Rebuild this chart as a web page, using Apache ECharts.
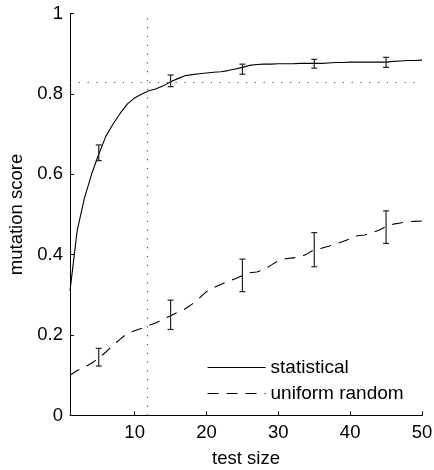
<!DOCTYPE html>
<html>
<head>
<meta charset="utf-8">
<script src="https://cdn.jsdelivr.net/npm/echarts@6/dist/echarts.min.js"></script>
<style>
html,body{margin:0;padding:0;background:#fff;}
#chart{width:434px;height:470px;}
</style>
</head>
<body>
<div id="chart"></div>
<script>
// ---- data ----
var testSizes = [1,2,3,4,5,6,7,8,9,10,11,12,13,14,15,16,17,18,19,20,21,22,23,24,25,26,27,28,29,30,31,32,33,34,35,36,37,38,39,40,41,42,43,44,45,46,47,48,49,50];
var statistical = [0.31,0.46,0.54,0.60,0.65,0.695,0.725,0.752,0.775,0.79,0.80,0.808,0.813,0.82,0.83,0.838,0.845,0.848,0.85,0.852,0.854,0.855,0.858,0.862,0.866,0.871,0.873,0.874,0.874,0.875,0.875,0.875,0.876,0.876,0.876,0.876,0.877,0.878,0.878,0.879,0.879,0.879,0.879,0.879,0.879,0.881,0.882,0.883,0.883,0.884];
var uniformRandom = [0.10,0.112,0.12,0.13,0.143,0.158,0.175,0.19,0.205,0.211,0.217,0.224,0.231,0.24,0.248,0.257,0.265,0.277,0.292,0.308,0.318,0.326,0.334,0.34,0.348,0.355,0.357,0.363,0.374,0.385,0.39,0.392,0.394,0.402,0.413,0.416,0.421,0.427,0.433,0.44,0.447,0.449,0.454,0.461,0.47,0.476,0.479,0.482,0.483,0.484];
var errX = [5,15,25,35,45];
var statLow = [0.634,0.818,0.849,0.864,0.866];
var statHigh = [0.673,0.847,0.874,0.886,0.891];
var randLow = [0.123,0.214,0.308,0.370,0.428];
var randHigh = [0.167,0.287,0.389,0.455,0.509];
var xTicks = [10,20,30,40,50];
var yTicks = [0,0.2,0.4,0.6,0.8,1];
var thresholdX = 11.8;
var thresholdY = 0.826;

var FONT = '"Liberation Sans", Arial, Helvetica, sans-serif';
var FS = 18.5;
var LFS = 19;

function pairs(xs, ys){ return xs.map(function(x,i){ return [x, ys[i]]; }); }
function triples(xs, lo, hi){ return xs.map(function(x,i){ return [x, lo[i], hi[i]]; }); }

function errRender(params, api){
  var x = api.value(0);
  var lo = api.coord([x, api.value(1)]);
  var hi = api.coord([x, api.value(2)]);
  var w = 3;
  var st = {stroke:'#222', lineWidth:1.2, fill:null};
  return {type:'group', children:[
    {type:'line', shape:{x1:lo[0],y1:lo[1],x2:hi[0],y2:hi[1]}, style:st},
    {type:'line', shape:{x1:lo[0]-w,y1:lo[1],x2:lo[0]+w,y2:lo[1]}, style:st},
    {type:'line', shape:{x1:hi[0]-w,y1:hi[1],x2:hi[0]+w,y2:hi[1]}, style:st}
  ]};
}

var chart = echarts.init(document.getElementById('chart'), null, {renderer:'canvas'});
chart.setOption({
  animation:false,
  backgroundColor:'#fff',
  textStyle:{fontFamily:FONT},
  grid:{left:70, right:12, top:13.5, bottom:54.5, containLabel:false, outerBoundsMode:'none'},
  legend:{
    show:true,
    data:['statistical','uniform random'],
    orient:'vertical', left:202, top:353,
    itemWidth:58, itemHeight:14, itemGap:7,
    itemStyle:{opacity:0},
    lineStyle:{width:1.1},
    textStyle:{fontFamily:FONT, fontSize:LFS, color:'#000'},
    selectedMode:false
  },
  xAxis:{
    type:'value', min:1, max:50,
    name:'test size', nameLocation:'middle', nameGap:34,
    nameTextStyle:{fontFamily:FONT, fontSize:FS, color:'#000'},
    axisLine:{lineStyle:{color:'#000', width:1}},
    axisTick:{inside:true, length:4, customValues:xTicks, lineStyle:{color:'#000'}},
    axisLabel:{customValues:xTicks, margin:8, fontFamily:FONT, fontSize:FS, color:'#000'},
    splitLine:{show:false}
  },
  yAxis:{
    type:'value', min:0, max:1, interval:0.2,
    name:'mutation score', nameLocation:'middle', nameGap:44,
    nameTextStyle:{fontFamily:FONT, fontSize:FS, color:'#000'},
    axisLine:{show:true, lineStyle:{color:'#000', width:1}},
    axisTick:{show:true, inside:true, length:4, customValues:yTicks, lineStyle:{color:'#000'}},
    axisLabel:{customValues:yTicks, margin:7, fontFamily:FONT, fontSize:FS, color:'#000',
      formatter:function(v){ return String(Math.round(v*10)/10); }},
    splitLine:{show:false}
  },
  series:[
    {
      name:'statistical', type:'line', data:pairs(testSizes, statistical),
      showSymbol:false, symbol:'none', smooth:false,
      lineStyle:{color:'#000', width:1.1, type:'solid'},
      itemStyle:{color:'#000'},
      markLine:{
        silent:true, symbol:['none','none'], label:{show:false},
        lineStyle:{color:'#555', width:1.2, type:[1.2,7.6]},
        data:[{xAxis:thresholdX},{yAxis:thresholdY}]
      },
      z:3
    },
    {
      name:'uniform random', type:'line', data:pairs(testSizes, uniformRandom),
      showSymbol:false, symbol:'none', smooth:false,
      lineStyle:{color:'#000', width:1.1, type:[11,8]},
      itemStyle:{color:'#000'},
      z:3
    },
    {
      name:'statErr', type:'custom', renderItem:errRender,
      data:triples(errX, statLow, statHigh), z:4, silent:true
    },
    {
      name:'randErr', type:'custom', renderItem:errRender,
      data:triples(errX, randLow, randHigh), z:4, silent:true
    }
  ]
});
</script>
</body>
</html>
